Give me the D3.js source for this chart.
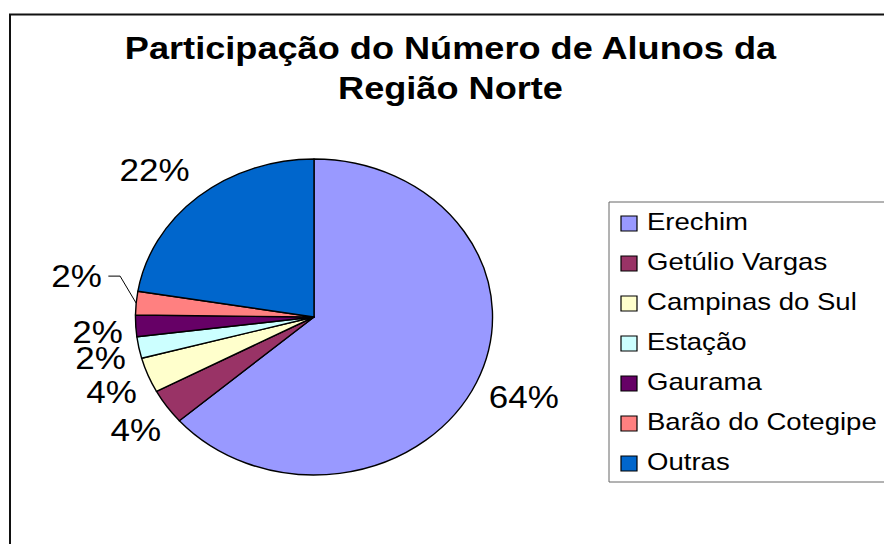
<!DOCTYPE html>
<html>
<head>
<meta charset="utf-8">
<script src="https://cdn.jsdelivr.net/npm/d3@7"></script>
<style>
  html, body { margin: 0; padding: 0; background: #fff; }
  svg { display: block; }
  text { font-family: "Liberation Sans", Arial, sans-serif; fill: #000; }
</style>
</head>
<body>
<svg id="chart" width="884" height="544"></svg>
<script>
// Share of students by municipality, Região Norte (percent)
const categories = ["Erechim", "Getúlio Vargas", "Campinas do Sul", "Estação", "Gaurama", "Barão do Cotegipe", "Outras"];
const shares = [63.6, 3.6, 3.6, 2.2, 2.2, 2.4, 22.4];
const colors = ["#9999FF", "#993366", "#FFFFCC", "#CCFFFF", "#660066", "#FF8080", "#0066CC"];
const titleLines = ["Participação do Número de Alunos da", "Região Norte"];

// The whole figure is drawn slightly wider than tall
const SX = 1.13;
const W = 884, H = 544;

const svg = d3.select("#chart");
svg.append("rect").attr("width", W).attr("height", H).attr("fill", "#fff");

const g = svg.append("g").attr("transform", `scale(${SX},1)`);
const px = v => v / SX; // screen x -> drawing x

// Chart frame
g.append("rect")
  .attr("x", px(10)).attr("y", 14.5)
  .attr("width", px(W + 40)).attr("height", H + 40)
  .attr("fill", "#fff").attr("stroke", "#111").attr("stroke-width", 2)
  .attr("vector-effect", "non-scaling-stroke");

// Title
g.append("g").selectAll("text").data(titleLines).join("text")
  .attr("x", px(450.5))
  .attr("y", (d, i) => 59 + i * 40)
  .attr("text-anchor", "middle")
  .attr("font-size", 32).attr("font-weight", "bold")
  .text(d => d);

// Pie
const cx = px(314), cy = 317, r = 158;
const pie = d3.pie().sort(null).value(d => d);
const arcs = pie(shares);
const arc = d3.arc().innerRadius(0).outerRadius(r);

const pieG = g.append("g").attr("transform", `translate(${cx},${cy})`);
pieG.selectAll("path").data(arcs).join("path")
  .attr("d", arc)
  .attr("fill", (d, i) => colors[i])
  .attr("stroke", "#000").attr("stroke-width", 1.4)
  .attr("stroke-linejoin", "round")
  .attr("vector-effect", "non-scaling-stroke");

// Data labels: each label box sits just outside the rim along its slice's mid-angle,
// nudged a little counter-clockwise, and never rising above the top of the pie
const labelFont = 31, cap = 22, gap = 11, halfH = 12, nudge = 4;
const leaders = { "Barão do Cotegipe": { dx: -14.2, dy: -27, run: 10.4, pad: 5.8 } };
const labelG = g.append("g");

arcs.forEach((a, i) => {
  const m = (a.startAngle + a.endAngle) / 2;
  const s = Math.sin(m), c = Math.cos(m);
  const txt = Math.round(shares[i]) + "%";
  const lead = leaders[categories[i]];
  const t = labelG.append("text").attr("font-size", labelFont).text(txt);
  const w = t.node().getComputedTextLength();
  if (lead) {
    const ex = cx + r * s, ey = cy - r * c;
    const bx = ex + lead.dx, by = ey + lead.dy;
    labelG.append("polyline")
      .attr("points", [[ex, ey], [bx, by], [bx - lead.run, by]].map(p => p.join(",")).join(" "))
      .attr("fill", "none").attr("stroke", "#000").attr("stroke-width", 1)
      .attr("vector-effect", "non-scaling-stroke");
    t.attr("text-anchor", "end")
      .attr("x", bx - lead.run - lead.pad)
      .attr("y", by + cap / 2);
    return;
  }
  const D = r + gap + (w / 2) * Math.abs(s) + halfH * Math.abs(c);
  let x = cx + D * s - nudge * c;
  let y = cy - D * c - nudge * s + cap / 2;   // baseline
  const topLimit = cy - r;
  if (y - cap < topLimit) {
    // keep the label inside the plot area and slide it sideways to clear the rim
    y = topLimit + cap;
    const dy = y - cy, dd = r + gap + 6;
    const dxC = Math.sqrt(Math.max(0, dd * dd - dy * dy));
    x = cx + Math.sign(s) * (dxC + w / 2);
  }
  t.attr("text-anchor", "middle").attr("x", x).attr("y", y);
});

// Legend
const lg = g.append("g");
lg.append("rect")
  .attr("x", px(609)).attr("y", 202)
  .attr("width", px(400)).attr("height", 280)
  .attr("fill", "#fff").attr("stroke", "#666").attr("stroke-width", 1)
  .attr("vector-effect", "non-scaling-stroke");

const rowY = d3.scaleLinear().domain([0, 1]).range([230, 270]);
const items = lg.selectAll("g.item").data(categories).join("g").attr("class", "item")
  .attr("transform", (d, i) => `translate(0,${rowY(i)})`);
items.append("rect")
  .attr("x", px(621)).attr("y", -14)
  .attr("width", px(16)).attr("height", 15)
  .attr("fill", (d, i) => colors[i])
  .attr("stroke", "#000").attr("stroke-width", 1.2)
  .attr("vector-effect", "non-scaling-stroke");
items.append("text")
  .attr("x", px(647)).attr("y", 0)
  .attr("font-size", 24.4)
  .text(d => d);
</script>
</body>
</html>
